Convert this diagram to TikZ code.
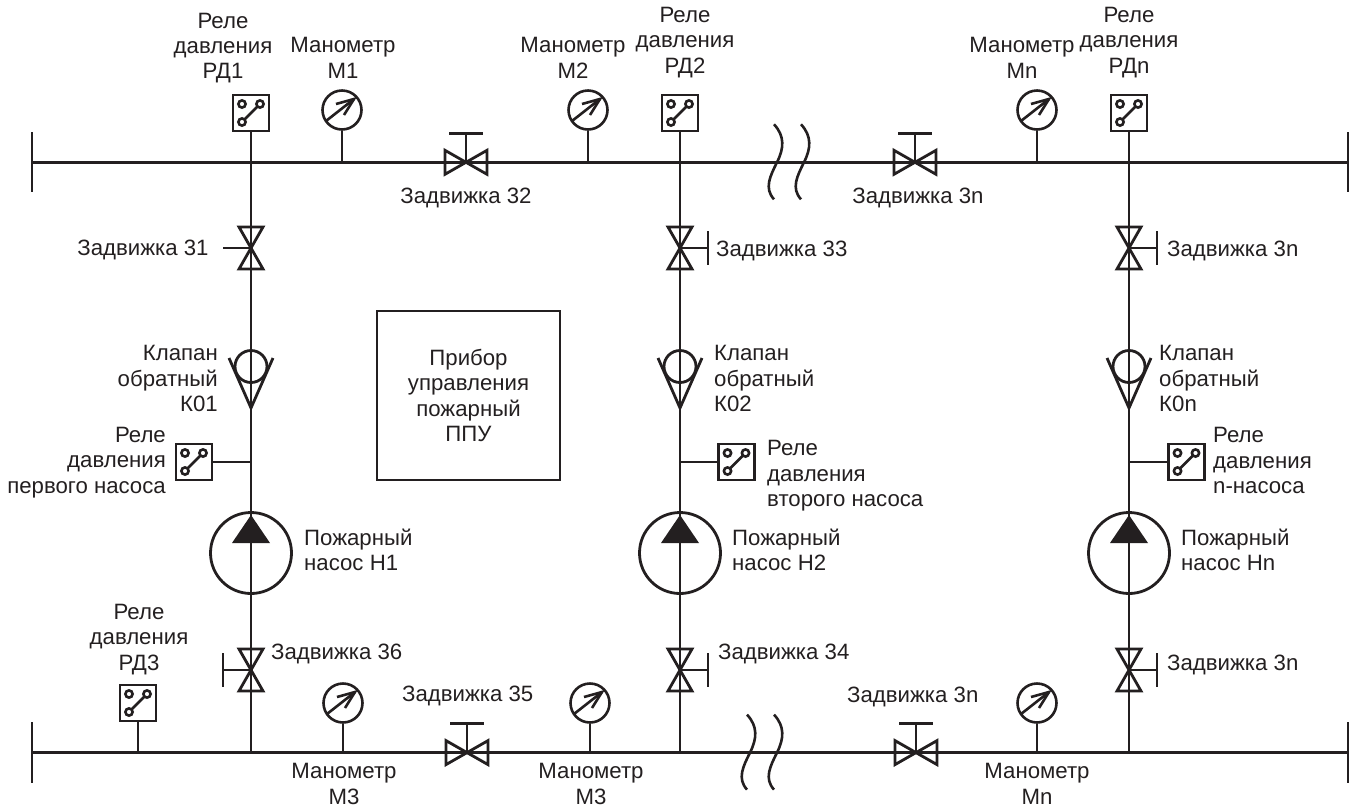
\documentclass[tikz,border=0pt]{standalone}
\usepackage{fontspec}
\setmainfont{Liberation Sans}
\definecolor{ink}{HTML}{231F20}
\tikzset{
  x=1pt,y=-1pt,
  thin pipe/.style={draw=ink,line width=2.8pt},
  lbl/.style={inner sep=0pt,align=center,text=ink,font=\fontsize{22.2}{25.4}\selectfont},
  lblr/.style={lbl,align=right},
  lbll/.style={lbl,align=left},
  relaybox/.style={draw=ink,line width=2.8pt,minimum size=36pt,inner sep=0pt,fill=white},
  gaugec/.style={circle,draw=ink,line width=2.6pt,minimum size=39pt,inner sep=0pt,fill=white},
  pumpc/.style={circle,draw=ink,line width=2.8pt,minimum size=81pt,inner sep=0pt},
  checkc/.style={circle,draw=ink,line width=2.8pt,minimum size=32pt,inner sep=0pt},
  pics/relaysym/.style={code={
    \draw[ink,line width=2.6pt] (-9,-9) circle (3.6);
    \draw[ink,line width=2.6pt] (9,-9) circle (3.6);
    \draw[ink,line width=2.6pt] (-9,9) circle (3.6);
    \draw[ink,line width=2.6pt] (-6.5,6.5) -- (6.5,-6.5);
  }},
  pics/gaugesym/.style={code={
    \draw[ink,line width=2.6pt] (-16,11) -- (12,-11);
    \draw[ink,line width=2.6pt,line join=miter] (-6,-6) -- (12,-11) -- (2,5);
  }},
  pics/hvalve/.style={code={
    \draw[ink,line width=2.8pt,line join=miter] (0,0) -- (-21,-12) -- (-21,12) -- cycle;
    \draw[ink,line width=2.8pt,line join=miter] (0,0) -- (21,-12) -- (21,12) -- cycle;
    \draw[ink,line width=2.8pt] (0,0) -- (0,-29);
    \draw[ink,line width=2.8pt] (-17,-29) -- (17,-29);
  }},
  pics/vvalve/.style={code={
    \draw[ink,line width=2.8pt,line join=miter] (0,0) -- (-12,-21) -- (12,-21) -- cycle;
    \draw[ink,line width=2.8pt,line join=miter] (0,0) -- (-12,21) -- (12,21) -- cycle;
  }},
  pics/wavy/.style={code={
    \draw[ink,line width=2.6pt] (0,-38) .. controls (11,-26) and (10,-14) .. (3,0) .. controls (-4,14) and (-10,26) .. (0,37);
  }},
  pics/pumptri/.style={code={
    \fill[ink] (0,-38) -- (19,-10) -- (-19,-10) -- cycle;
  }},
  pics/checkv/.style={code={
    \draw[ink,line width=2.8pt,line join=miter] (-22,-8) -- (0,42) -- (22,-8);
  }},
}
\begin{document}
\begin{tikzpicture}
\useasboundingbox (0,0) rectangle (1357,807);
% main lines
\coordinate (tl) at (32,162.3); \coordinate (tr) at (1348,162.3);
\coordinate (bl) at (32,752.6); \coordinate (br) at (1348,752.6);
\coordinate (tla) at (32,132); \coordinate (tlb) at (32,192);
\coordinate (tra) at (1348,132); \coordinate (trb) at (1348,192);
\coordinate (bla) at (32,722); \coordinate (blb) at (32,783);
\coordinate (bra) at (1348,722); \coordinate (brb) at (1348,783);
\draw[thin pipe] (tla) -- (tlb);
\draw[thin pipe] (tra) -- (trb);
\draw[thin pipe] (bla) -- (blb);
\draw[thin pipe] (bra) -- (brb);
\draw[thin pipe] (tl) -- (tr);
\draw[thin pipe] (bl) -- (br);
% relays on top
\node[relaybox] (rd1) at (251,113) {}; \pic at (rd1) {relaysym};
\node[relaybox] (rd2) at (680,113) {}; \pic at (rd2) {relaysym};
\node[relaybox] (rdn) at (1129,113) {}; \pic at (rdn) {relaysym};
% pump relays
\node[relaybox] (rp1) at (194,462) {}; \pic at (rp1) {relaysym};
\node[relaybox] (rp2) at (736.5,462) {}; \pic at (rp2) {relaysym};
\node[relaybox] (rpn) at (1186.5,462) {}; \pic at (rpn) {relaysym};
% relay 3
\node[relaybox] (rd3) at (138,703) {}; \pic at (rd3) {relaysym};
% junctions
\foreach \n/\x in {a/251,b/680,c/1129}{
  \coordinate (bot\n) at (\x,752.6);
  \coordinate (rj\n) at (\x,462);
}
\draw[thin pipe] (rd1.south) -- (bota);
\draw[thin pipe] (rd2.south) -- (botb);
\draw[thin pipe] (rdn.south) -- (botc);
\draw[thin pipe] (rp1.east) -- (rja);
\draw[thin pipe] (rp2.west) -- (rjb);
\draw[thin pipe] (rpn.west) -- (rjc);
\coordinate (rd3j) at (138,752.6);
\draw[thin pipe] (rd3.south) -- (rd3j);
% gauges
\foreach \n/\x/\y/\yy in {m1/342/110/162.3,m2/588/110/162.3,mn/1037/110/162.3,m3/343/703/752.6,m4/590/703/752.6,m5/1037/703/752.6}{
  \node[gaugec] (\n) at (\x,\y) {};
  \pic at (\n) {gaugesym};
  \coordinate (\n j) at (\x,\yy);
  \draw[thin pipe] (\n.south) -- (\n j);
}
% horizontal valves
\pic at (466,162.3) {hvalve};
\pic at (915,162.3) {hvalve};
\pic at (467,752.6) {hvalve};
\pic at (916,752.6) {hvalve};
% vertical valves
\pic at (251,248) {vvalve};
\pic at (680,248) {vvalve};
\pic at (1129,248) {vvalve};
\pic at (251,670) {vvalve};
\pic at (680,670) {vvalve};
\pic at (1129,670) {vvalve};
\draw[thin pipe] (223,248) -- (251,248);
\draw[thin pipe] (251,670) -- (223,670);
\draw[thin pipe] (223,653) -- (223,687);
\foreach \x/\y in {680/248,1129/248,680/670,1129/670}{
  \draw[thin pipe] (\x,\y) -- (\x+28,\y);
  \draw[thin pipe] (\x+28,\y-17) -- (\x+28,\y+17);
}
% check valves and pumps
\foreach \n/\x in {a/251,b/680,c/1129}{
  \node[checkc] (chk\n) at (\x,366.5) {};
  \pic at (\x,366) {checkv};
  \node[pumpc] (pmp\n) at (\x,553) {};
  \pic at (\x,553) {pumptri};
}
% breaks
\pic at (774,162.3) {wavy};
\pic at (801,162.3) {wavy};
\pic at (747,752.6) {wavy};
\pic at (774,752.6) {wavy};
% control box
\node[draw=ink,line width=2.8pt,minimum width=183pt,minimum height=169pt,inner sep=0pt,lbl] (ppu) at (468.5,395.5) {Прибор\\управления\\пожарный\\ППУ};
% labels
\node[lbl] (t1) at (223,48) {Реле\\давления\\РД1};
\node[lbl] (t2) at (343,58) {Манометр\\М1};
\node[lbl] (t3) at (573,58) {Манометр\\М2};
\node[lbl] (t4) at (685,42.5) {Реле\\давления\\РД2};
\node[lbl] (t5) at (1022,58) {Манометр\\Мn};
\node[lbl] (t6) at (1129,42.5) {Реле\\давления\\РДn};
\node[lbl] (t7) at (466,198) {Задвижка 32};
\node[lbl] (t8) at (918,198) {Задвижка 3n};
\node[lbl] (t9) at (143,250) {Задвижка 31};
\node[lbl,anchor=west] (t10) at (716,251) {Задвижка 33};
\node[lbl,anchor=west] (t11) at (1167,251) {Задвижка 3n};
\node[lblr,anchor=east] (t12) at (218,378.5) {Клапан\\обратный\\К01};
\node[lbll,anchor=west] (t13) at (714,378.5) {Клапан\\обратный\\К02};
\node[lbll,anchor=west] (t14) at (1159,378.5) {Клапан\\обратный\\К0n};
\node[lblr,anchor=east] (t15) at (166,462.5) {Реле\\давления\\первого насоса};
\node[lbll,anchor=west] (t16) at (767,476) {Реле\\давления\\второго насоса};
\node[lbll,anchor=west] (t17) at (1213,460.5) {Реле\\давления\\n-насоса};
\node[lbll,anchor=west] (t18) at (304,550) {Пожарный\\насос Н1};
\node[lbll,anchor=west] (t19) at (732,550) {Пожарный\\насос Н2};
\node[lbll,anchor=west] (t20) at (1181,550) {Пожарный\\насос Нn};
\node[lbl] (t21) at (139,639.5) {Реле\\давления\\РД3};
\node[lbl,anchor=west] (t22) at (271,654) {Задвижка 36};
\node[lbl,anchor=west] (t23) at (718,654) {Задвижка 34};
\node[lbl,anchor=west] (t24) at (1167,665) {Задвижка 3n};
\node[lbl,anchor=west] (t25) at (402,696) {Задвижка 35};
\node[lbl,anchor=west] (t26) at (847,697) {Задвижка 3n};
\node[lbl] (t27) at (344,784) {Манометр\\М3};
\node[lbl] (t28) at (591,784) {Манометр\\М3};
\node[lbl] (t29) at (1037,784) {Манометр\\Мn};
\end{tikzpicture}
\end{document}
